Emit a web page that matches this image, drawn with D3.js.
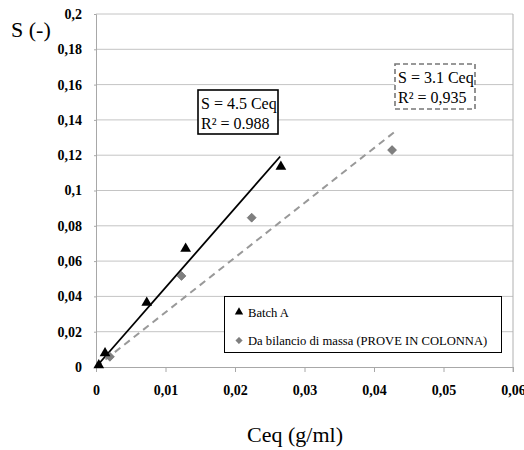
<!DOCTYPE html>
<html>
<head>
<meta charset="utf-8">
<script src="https://cdn.jsdelivr.net/npm/d3@7"></script>
<style>
  body { margin: 0; background: #fff; }
  text { font-family: "Liberation Serif", "Times New Roman", serif; }
</style>
</head>
<body>
<div id="chart"></div>
<script>
// data
const batchX = [0.0004, 0.0013, 0.0073, 0.0129, 0.0266];
const batchY = [0.001, 0.0078, 0.0364, 0.067, 0.1135];
const colonnaX = [0.002, 0.0123, 0.0224, 0.0426];
const colonnaY = [0.0058, 0.0516, 0.0846, 0.1229];
// trend lines: S = k * Ceq
const batchSlope = 4.5, batchFitMax = 0.0265;
const colonnaSlope = 3.1, colonnaFitMax = 0.0432;
const xTicks = [0, 0.01, 0.02, 0.03, 0.04, 0.05, 0.06];
const yTicks = [0, 0.02, 0.04, 0.06, 0.08, 0.1, 0.12, 0.14, 0.16, 0.18, 0.2];

const W = 524, H = 450;
const plotL = 96, plotR = 513, plotT = 14, plotB = 367;

const svg = d3.select("#chart").append("svg")
  .attr("width", W).attr("height", H);

const x = d3.scaleLinear().domain([0, 0.06]).range([plotL, plotR]);
const y = d3.scaleLinear().domain([0, 0.2]).range([plotB, plotT]);

const it = d3.formatLocale({ decimal: ",", thousands: ".", grouping: [3], currency: ["", ""] });
const fmt = it.format(".2~f");

// gridlines
svg.append("g")
  .selectAll("line")
  .data(yTicks.slice(1))
  .join("line")
  .attr("x1", plotL).attr("x2", plotR)
  .attr("y1", d => y(d)).attr("y2", d => y(d))
  .attr("stroke", "#c4c4c4").attr("stroke-width", 1);

// right border
svg.append("line")
  .attr("x1", plotR).attr("x2", plotR)
  .attr("y1", plotT).attr("y2", plotB + 5)
  .attr("stroke", "#b0b0b0");

// axes
const xAxis = svg.append("g")
  .attr("transform", `translate(0,${plotB})`)
  .call(d3.axisBottom(x).tickValues(xTicks).tickFormat(fmt).tickSize(5).tickPadding(13));
const yAxis = svg.append("g")
  .attr("transform", `translate(${plotL},0)`)
  .call(d3.axisLeft(y).tickValues(yTicks).tickFormat(fmt).tickSize(2).tickPadding(12));

[xAxis, yAxis].forEach(a => {
  a.attr("font-family", "Liberation Serif");
  a.select(".domain").attr("stroke", "#a8a8a8");
  a.selectAll(".tick line").attr("stroke", "#a8a8a8");
  a.selectAll(".tick text")
    .attr("fill", "#000")
    .style("font-family", "'Liberation Serif', serif")
    .style("font-size", "14px")
    .style("font-weight", "bold");
});

// axis titles
svg.append("text").attr("x", 11).attr("y", 37)
  .style("font-size", "22px").text("S (-)");
svg.append("text").attr("x", 295).attr("y", 442)
  .attr("text-anchor", "middle")
  .style("font-size", "22px").text("Ceq (g/ml)");

// trend lines
const line = d3.line().x(d => x(d[0])).y(d => y(d[1]));
svg.append("path")
  .datum([[0, 0], [colonnaFitMax, colonnaSlope * colonnaFitMax]])
  .attr("d", line)
  .attr("fill", "none").attr("stroke", "#999")
  .attr("stroke-width", 2).attr("stroke-dasharray", "7,5");
svg.append("path")
  .datum([[0, 0], [batchFitMax, batchSlope * batchFitMax]])
  .attr("d", line)
  .attr("fill", "none").attr("stroke", "#000")
  .attr("stroke-width", 1.8);

// points
const tri = d3.symbol().type(d3.symbolTriangle).size(50);
const dia = d3.symbol().type(d3.symbolSquare).size(40);

svg.append("g").selectAll("path")
  .data(d3.zip(colonnaX, colonnaY))
  .join("path")
  .attr("d", dia)
  .attr("transform", d => `translate(${x(d[0])},${y(d[1])}) rotate(45)`)
  .attr("fill", "#7f7f7f").attr("stroke", "#666").attr("stroke-width", 0.6);

svg.append("g").selectAll("path")
  .data(d3.zip(batchX, batchY))
  .join("path")
  .attr("d", tri)
  .attr("transform", d => `translate(${x(d[0])},${y(d[1])})`)
  .attr("fill", "#000");

// equation boxes
function eqBox(x0, y0, w, h, lines, dashed) {
  const g = svg.append("g");
  g.append("rect")
    .attr("x", x0).attr("y", y0).attr("width", w).attr("height", h)
    .attr("fill", "#fff")
    .attr("stroke", dashed ? "#777" : "#000")
    .attr("stroke-width", 1.6)
    .attr("stroke-dasharray", dashed ? "5,3" : null);
  g.selectAll("text").data(lines).join("text")
    .attr("x", x0 + 3)
    .attr("y", (d, i) => y0 + 19 + i * 20)
    .style("font-size", "16px")
    .text(d => d);
}
eqBox(198, 90, 80, 44, ["S = 4.5 Ceq", "R² = 0.988"], false);
eqBox(395, 64, 80, 45, ["S = 3.1 Ceq", "R² = 0,935"], true);

// legend
const leg = svg.append("g");
leg.append("rect")
  .attr("x", 224.5).attr("y", 296.5).attr("width", 277).attr("height", 56)
  .attr("fill", "#fff").attr("stroke", "#000").attr("stroke-width", 1);
const legItems = ["Batch A", "Da bilancio di massa (PROVE IN COLONNA)"];
leg.append("path")
  .attr("d", d3.symbol().type(d3.symbolTriangle).size(30))
  .attr("transform", "translate(239,312)")
  .attr("fill", "#000");
leg.append("path")
  .attr("d", d3.symbol().type(d3.symbolSquare).size(20))
  .attr("transform", "translate(239,340.5) rotate(45)")
  .attr("fill", "#7f7f7f").attr("stroke", "#666").attr("stroke-width", 0.5);
leg.selectAll("text").data(legItems).join("text")
  .attr("x", 248)
  .attr("y", (d, i) => 316.5 + i * 28.5)
  .style("font-size", "12.6px")
  .text(d => d);
</script>
</body>
</html>
